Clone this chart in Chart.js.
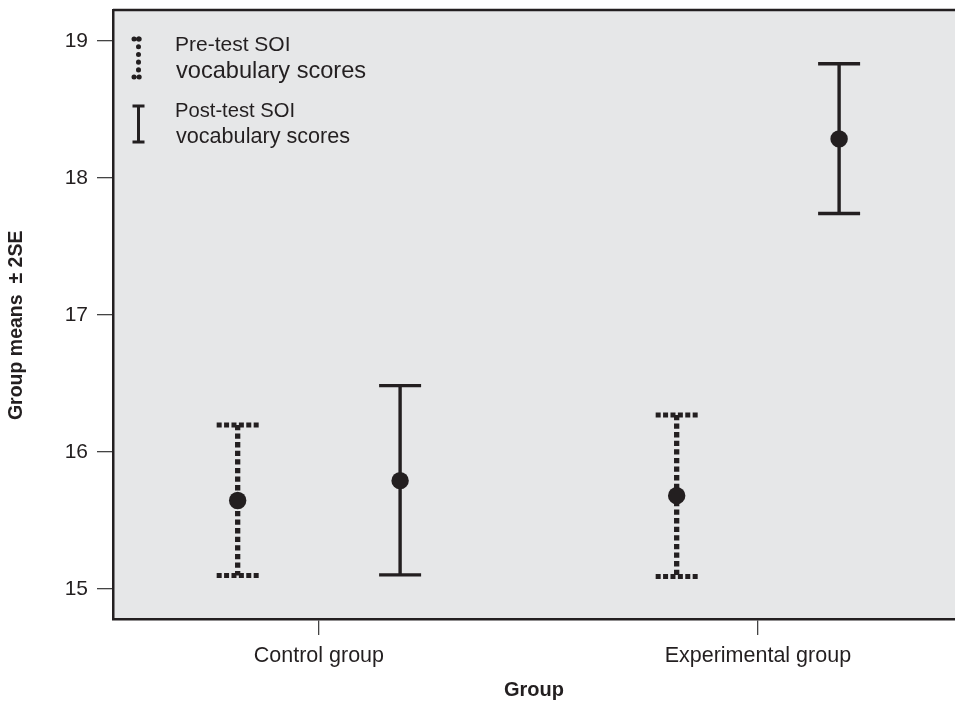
<!DOCTYPE html>
<html>
<head>
<meta charset="utf-8">
<script src="https://cdn.jsdelivr.net/npm/chart.js@4/dist/chart.umd.min.js"></script>
<style>
  body { margin: 0; background: #fff; }
  #wrap { width: 955px; height: 703px; }
</style>
</head>
<body>
<div id="wrap"><canvas id="grafico" width="955" height="703"></canvas></div>
<script>
// datos
const grupos = ['Control group', 'Experimental group'];
const preMedia = [15.645, 15.68];
const preBajo = [15.097, 15.09];
const preAlto = [16.197, 16.27];
const postMedia = [15.79, 18.285];
const postBajo = [15.102, 17.74];
const postAlto = [16.484, 18.834];
const ticksY = [15, 16, 17, 18, 19];
const leyenda = [['Pre-test SOI', 'vocabulary scores'], ['Post-test SOI', 'vocabulary scores']];

const tinta = '#231f20';
const fondo = '#e6e7e8';
const fuente = "'Liberation Sans', Arial, sans-serif";
const desplaz = 0.185; // separacion pre / post dentro de cada grupo

const puntos = [];
grupos.forEach((g, i) => {
    puntos.push({ x: i + 1 - desplaz, y: preMedia[i] });
    puntos.push({ x: i + 1 + desplaz, y: postMedia[i] });
});

function barra(ctx, x, y1, y2, punteada, escalaX, escalaY) {
    const px = escalaX.getPixelForValue(x);
    const pa = escalaY.getPixelForValue(y2);
    const pb = escalaY.getPixelForValue(y1);
    const ancho = 21;
    ctx.save();
    ctx.strokeStyle = tinta;
    ctx.lineCap = 'butt';
    if (punteada) {
        ctx.lineWidth = 5.3;
        ctx.setLineDash([5.3, 3.3]);
    } else {
        ctx.lineWidth = 3.4;
    }
    ctx.beginPath();
    ctx.moveTo(px, pa);
    ctx.lineTo(px, pb);
    ctx.stroke();
    if (punteada) {
        ctx.lineWidth = 5;
        ctx.setLineDash([5, 2.4]);
    }
    [pa, pb].forEach(p => {
        ctx.beginPath();
        ctx.moveTo(px - ancho, p);
        ctx.lineTo(px + ancho, p);
        ctx.stroke();
    });
    ctx.restore();
}

const pluginFondo = {
    id: 'fondo',
    beforeDraw(chart) {
        const a = chart.chartArea;
        const ctx = chart.ctx;
        ctx.save();
        ctx.fillStyle = fondo;
        ctx.fillRect(a.left, a.top, a.right - a.left, a.bottom - a.top);
        ctx.strokeStyle = tinta;
        ctx.lineWidth = 2.5;
        ctx.beginPath();
        ctx.moveTo(a.left, a.top);
        ctx.lineTo(a.right, a.top);
        ctx.stroke();
        ctx.restore();
    },
    beforeDatasetsDraw(chart) {
        const ctx = chart.ctx;
        const sx = chart.scales.x, sy = chart.scales.y;
        grupos.forEach((g, i) => {
            barra(ctx, i + 1 - desplaz, preBajo[i], preAlto[i], true, sx, sy);
            barra(ctx, i + 1 + desplaz, postBajo[i], postAlto[i], false, sx, sy);
        });
    },
    afterDraw(chart) {
        const ctx = chart.ctx;
        ctx.save();
        ctx.fillStyle = tinta;
        ctx.strokeStyle = tinta;
        // icono pre-test (puntos)
        ctx.lineWidth = 5;
        ctx.lineCap = 'round';
        ctx.setLineDash([0.1, 7.6]);
        ctx.beginPath();
        ctx.moveTo(138.5, 39);
        ctx.lineTo(138.5, 77);
        ctx.stroke();
        ctx.setLineDash([0.1, 5]);
        [39, 77].forEach(y => {
            ctx.beginPath();
            ctx.moveTo(134, y);
            ctx.lineTo(143.5, y);
            ctx.stroke();
        });
        // icono post-test (solido)
        ctx.setLineDash([]);
        ctx.lineCap = 'butt';
        ctx.lineWidth = 3;
        ctx.beginPath();
        ctx.moveTo(138.5, 105);
        ctx.lineTo(138.5, 143);
        ctx.moveTo(132.5, 106);
        ctx.lineTo(144.5, 106);
        ctx.moveTo(132.5, 142);
        ctx.lineTo(144.5, 142);
        ctx.stroke();
        // textos de la leyenda
        ctx.textBaseline = 'alphabetic';
        ctx.textAlign = 'left';
        ctx.font = '21px ' + fuente;
        ctx.fillText(leyenda[0][0], 175, 51);
        ctx.font = '23.6px ' + fuente;
        ctx.fillText(leyenda[0][1], 176, 78);
        ctx.font = '20.2px ' + fuente;
        ctx.fillText(leyenda[1][0], 175, 117);
        ctx.font = '21.6px ' + fuente;
        ctx.fillText(leyenda[1][1], 176, 143);
        ctx.restore();
    }
};

const config = {
    type: 'scatter',
    data: {
        datasets: [{
            label: 'Means',
            data: puntos,
            pointRadius: 8.7,
            pointHoverRadius: 8.7,
            backgroundColor: tinta,
            borderColor: tinta,
            borderWidth: 0
        }]
    },
    options: {
        responsive: false,
        animation: false,
        events: [],
        layout: { autoPadding: false, padding: { top: 10, right: 0, left: 0, bottom: 0 } },
        plugins: {
            legend: { display: false },
            tooltip: { enabled: false }
        },
        scales: {
            x: {
                type: 'linear',
                min: 0.531,
                max: 2.449,
                afterFit(scale) {
                    scale.height = 84;
                    scale.paddingLeft = 0;
                    scale.paddingRight = 0;
                },
                afterBuildTicks(scale) {
                    scale.ticks = grupos.map((g, i) => ({ value: i + 1 }));
                },
                ticks: {
                    color: tinta,
                    font: { family: fuente, size: 21.5 },
                    padding: 8,
                    callback: (v) => grupos[Math.round(v) - 1] || ''
                },
                grid: {
                    drawOnChartArea: false,
                    drawTicks: true,
                    tickLength: 16,
                    color: '#444',
                    lineWidth: 1.3
                },
                border: { display: true, color: tinta, width: 2.5 },
                title: {
                    display: true,
                    text: 'Group',
                    color: tinta,
                    font: { family: fuente, size: 20, weight: 'bold' },
                    padding: { top: 0, bottom: 1 }
                }
            },
            y: {
                min: 14.78,
                max: 19.226,
                afterFit(scale) {
                    scale.width = 113;
                    scale.paddingTop = 0;
                    scale.paddingBottom = 0;
                },
                afterBuildTicks(scale) {
                    scale.ticks = ticksY.map(v => ({ value: v }));
                },
                ticks: {
                    color: tinta,
                    font: { family: fuente, size: 21 },
                    padding: 9
                },
                grid: {
                    drawOnChartArea: false,
                    drawTicks: true,
                    tickLength: 16,
                    color: '#444',
                    lineWidth: 1.3
                },
                border: { display: true, color: tinta, width: 2.5 },
                title: {
                    display: true,
                    // espacios finales para bajar un poco el titulo
                    text: 'Group means  \u00b1 2SE\u00a0\u00a0\u00a0\u00a0',
                    color: tinta,
                    font: { family: fuente, size: 19.5, weight: 'bold' },
                    padding: { top: 5, bottom: 0 }
                }
            }
        }
    },
    plugins: [pluginFondo]
};

const ctx = document.getElementById('grafico').getContext('2d');
new Chart(ctx, config);
</script>
</body>
</html>
